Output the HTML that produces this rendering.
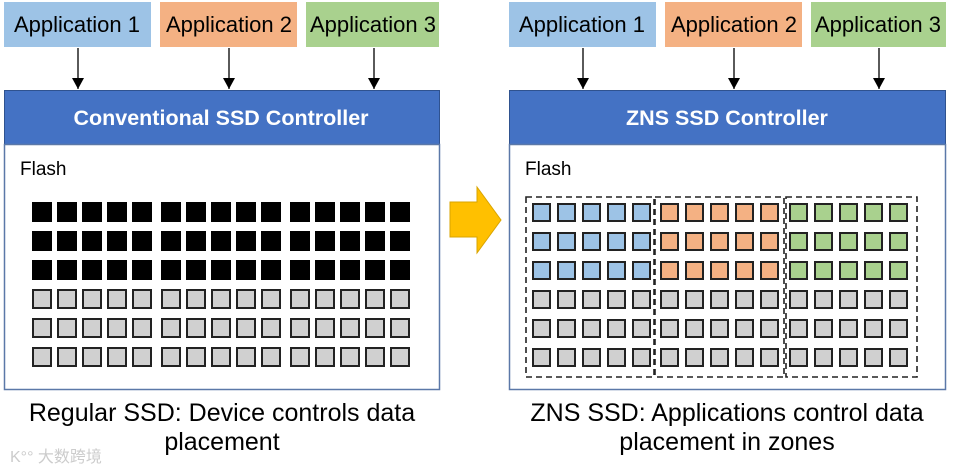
<!DOCTYPE html>
<html><head><meta charset="utf-8"><style>
html,body{margin:0;padding:0;background:#fff;}
svg{display:block;}
</style></head><body>
<svg width="954" height="472" viewBox="0 0 954 472" xmlns="http://www.w3.org/2000/svg" font-family="Liberation Sans, sans-serif">
<defs>
<pattern id="pb1" x="32" y="202" width="25" height="29" patternUnits="userSpaceOnUse"><rect x="0" y="0" width="20" height="20" fill="#000"/></pattern>
<pattern id="pb2" x="161" y="202" width="25" height="29" patternUnits="userSpaceOnUse"><rect x="0" y="0" width="20" height="20" fill="#000"/></pattern>
<pattern id="pb3" x="290" y="202" width="25" height="29" patternUnits="userSpaceOnUse"><rect x="0" y="0" width="20" height="20" fill="#000"/></pattern>
<pattern id="pg1" x="32" y="202" width="25" height="29" patternUnits="userSpaceOnUse"><rect x="1" y="1" width="18" height="18" fill="#d0d0d0" stroke="#222" stroke-width="2"/></pattern>
<pattern id="pg2" x="161" y="202" width="25" height="29" patternUnits="userSpaceOnUse"><rect x="1" y="1" width="18" height="18" fill="#d0d0d0" stroke="#222" stroke-width="2"/></pattern>
<pattern id="pg3" x="290" y="202" width="25" height="29" patternUnits="userSpaceOnUse"><rect x="1" y="1" width="18" height="18" fill="#d0d0d0" stroke="#222" stroke-width="2"/></pattern>
<pattern id="rb" x="532" y="203" width="25" height="29" patternUnits="userSpaceOnUse"><rect x="1" y="1" width="17" height="17" fill="#9dc3e6" stroke="#222" stroke-width="2"/></pattern>
<pattern id="ro" x="660" y="203" width="25" height="29" patternUnits="userSpaceOnUse"><rect x="1" y="1" width="17" height="17" fill="#f4b183" stroke="#222" stroke-width="2"/></pattern>
<pattern id="rg" x="789" y="203" width="25" height="29" patternUnits="userSpaceOnUse"><rect x="1" y="1" width="17" height="17" fill="#a9d18e" stroke="#222" stroke-width="2"/></pattern>
<pattern id="rq1" x="532" y="203" width="25" height="29" patternUnits="userSpaceOnUse"><rect x="1" y="1" width="17" height="17" fill="#d0d0d0" stroke="#222" stroke-width="2"/></pattern>
<pattern id="rq2" x="660" y="203" width="25" height="29" patternUnits="userSpaceOnUse"><rect x="1" y="1" width="17" height="17" fill="#d0d0d0" stroke="#222" stroke-width="2"/></pattern>
<pattern id="rq3" x="789" y="203" width="25" height="29" patternUnits="userSpaceOnUse"><rect x="1" y="1" width="17" height="17" fill="#d0d0d0" stroke="#222" stroke-width="2"/></pattern>
</defs>

<!-- LEFT -->
<rect x="4" y="2" width="147" height="45" fill="#9dc3e6"/>
<rect x="160" y="2" width="137" height="45" fill="#f4b183"/>
<rect x="306" y="2" width="133" height="45" fill="#a9d18e"/>
<text x="77" y="32" font-size="22" text-anchor="middle">Application 1</text>
<text x="229" y="32" font-size="22" text-anchor="middle">Application 2</text>
<text x="373" y="32" font-size="22" text-anchor="middle">Application 3</text>
<line x1="78" y1="48" x2="78" y2="89" stroke="#000" stroke-width="1.3"/><path d="M72,78 L84,78 L78,89 z"/>
<line x1="229" y1="48" x2="229" y2="89" stroke="#000" stroke-width="1.3"/><path d="M223,78 L235,78 L229,89 z"/>
<line x1="374" y1="48" x2="374" y2="89" stroke="#000" stroke-width="1.3"/><path d="M368,78 L380,78 L374,89 z"/>
<rect x="4.5" y="90.5" width="435" height="54" fill="#4472c4" stroke="#2f528f" stroke-width="1"/>
<text x="221" y="125" font-size="21.5" font-weight="bold" fill="#fff" text-anchor="middle">Conventional  SSD Controller</text>
<rect x="4.5" y="144.5" width="435" height="245" fill="#fff" stroke="#5b78a8" stroke-width="1.5"/>
<text x="20" y="175" font-size="19">Flash</text>
<rect x="32" y="202" width="125" height="87" fill="url(#pb1)"/>
<rect x="161" y="202" width="125" height="87" fill="url(#pb2)"/>
<rect x="290" y="202" width="125" height="87" fill="url(#pb3)"/>
<rect x="32" y="289" width="125" height="87" fill="url(#pg1)"/>
<rect x="161" y="289" width="125" height="87" fill="url(#pg2)"/>
<rect x="290" y="289" width="125" height="87" fill="url(#pg3)"/>
<text x="222" y="421" font-size="25" text-anchor="middle">Regular SSD: Device controls data</text>
<text x="222" y="450" font-size="25" text-anchor="middle">placement</text>
<text x="10" y="462" font-size="16" fill="#ccc">K°° 大数跨境</text>

<!-- ARROW -->
<path d="M450,202 L477,202 L477,187 L501,220 L477,253 L477,237 L450,237 z" fill="#ffc000" stroke="#d9a400" stroke-width="1"/>

<!-- RIGHT -->
<rect x="509" y="2" width="147" height="45" fill="#9dc3e6"/>
<rect x="665" y="2" width="137" height="45" fill="#f4b183"/>
<rect x="811" y="2" width="135" height="45" fill="#a9d18e"/>
<text x="582" y="32" font-size="22" text-anchor="middle">Application 1</text>
<text x="734" y="32" font-size="22" text-anchor="middle">Application 2</text>
<text x="878" y="32" font-size="22" text-anchor="middle">Application 3</text>
<line x1="583" y1="48" x2="583" y2="89" stroke="#000" stroke-width="1.3"/><path d="M577,78 L589,78 L583,89 z"/>
<line x1="734" y1="48" x2="734" y2="89" stroke="#000" stroke-width="1.3"/><path d="M728,78 L740,78 L734,89 z"/>
<line x1="879" y1="48" x2="879" y2="89" stroke="#000" stroke-width="1.3"/><path d="M873,78 L885,78 L879,89 z"/>
<rect x="509.5" y="90.5" width="436" height="54" fill="#4472c4" stroke="#2f528f" stroke-width="1"/>
<text x="727" y="125" font-size="21.5" font-weight="bold" fill="#fff" text-anchor="middle">ZNS SSD Controller</text>
<rect x="509.5" y="144.5" width="436" height="245" fill="#fff" stroke="#5b78a8" stroke-width="1.5"/>
<text x="525" y="175" font-size="19">Flash</text>
<rect x="532" y="203" width="125" height="87" fill="url(#rb)"/>
<rect x="660" y="203" width="125" height="87" fill="url(#ro)"/>
<rect x="789" y="203" width="125" height="87" fill="url(#rg)"/>
<rect x="532" y="290" width="125" height="87" fill="url(#rq1)"/>
<rect x="660" y="290" width="125" height="87" fill="url(#rq2)"/>
<rect x="789" y="290" width="125" height="87" fill="url(#rq3)"/>
<g fill="none" stroke="#222" stroke-width="1.6" stroke-dasharray="6,4">
<rect x="526" y="197" width="128" height="180"/>
<rect x="655" y="197" width="129" height="180"/>
<rect x="786" y="197" width="131" height="180"/>
</g>
<text x="727" y="421" font-size="25" text-anchor="middle">ZNS SSD: Applications control data</text>
<text x="727" y="450" font-size="25" text-anchor="middle">placement in zones</text>
</svg>
</body></html>
